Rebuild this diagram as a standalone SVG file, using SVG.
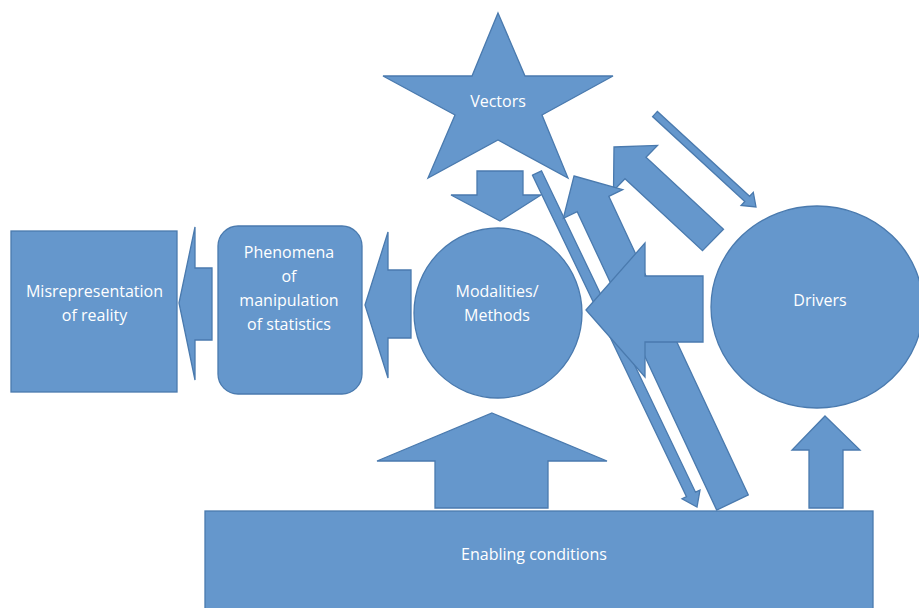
<svg xmlns="http://www.w3.org/2000/svg" width="919" height="608" viewBox="0 0 919 608">
<style>
.s{fill:#6597CC;stroke:#4A7AAE;stroke-width:1.3;stroke-linejoin:miter}
.t{font-family:"Open Sans","Liberation Sans",sans-serif;font-size:16px;fill:#FFFFFF;text-anchor:middle}
</style>
<rect width="919" height="608" fill="#FFFFFF"/>
<g id="misrepresentation">
<rect class="s" x="11" y="231" width="166" height="161"/>
<text class="t" x="94.5" y="297">Misrepresentation</text>
<text class="t" x="94.5" y="321">of reality</text>
</g>
<g id="phenomena">
<rect class="s" x="218" y="226" width="144" height="168" rx="20" ry="20"/>
<text class="t" x="289" y="258">Phenomena</text>
<text class="t" x="289" y="282">of</text>
<text class="t" x="289" y="306">manipulation</text>
<text class="t" x="289" y="330">of statistics</text>
</g>
<g id="modalities">
<ellipse class="s" cx="498" cy="313" rx="84" ry="85"/>
<text class="t" x="497" y="297">Modalities/</text>
<text class="t" x="497" y="321">Methods</text>
</g>
<g id="vectors">
<polygon class="s" points="498,13 525,76 613,76 542,115 568,178 498,140 428,178 455,115 383,76 472,76"/>
<text class="t" x="498" y="107">Vectors</text>
</g>
<g id="drivers">
<ellipse class="s" cx="817" cy="307" rx="106" ry="101"/>
<text class="t" x="820" y="306">Drivers</text>
</g>
<g id="enabling">
<rect class="s" x="205" y="511" width="668" height="110"/>
<text class="t" x="534" y="560">Enabling conditions</text>
</g>
<g id="connectors">
<polygon class="s" points="179,303 195,227 195,268 212,268 212,340 195,340 195,380"/>
<polygon class="s" points="365,305 388,232 388,270 411,270 411,338 388,338 388,378"/>
<polygon class="s" points="477,171 523,171 523,195 541,195 500,221 451,195 477,195"/>
<polygon class="s" points="492,413 607,461 548,461 548,508 435,508 435,461 377,461"/>
<polygon class="s" points="825,416 860,450 843,450 843,508 809,508 809,450 792,450"/>
<polygon class="s" points="652.6,116.6 657.4,111.4 749.6,196.3 753.3,192.3 756,207 741.1,205.5 744.8,201.5"/>
<polygon class="s" points="614,147 657.5,145.4 646,157.3 723.5,229.3 702.5,250.7 625,178.7 613.5,190.6"/>
<polygon class="s" points="532.5,175.2 541.5,170.8 695.5,492.2 700,490.1 697,507 682,498.7 686.5,496.6"/>
<polygon class="s" points="574,176 622.7,189.7 608.8,196.4 748.3,494.9 716.7,510.1 577.2,211.6 563.3,218.3"/>
<polygon class="s" points="586,310 645,243 645,276 703,276 703,342 645,342 645,377"/>
</g>
</svg>
